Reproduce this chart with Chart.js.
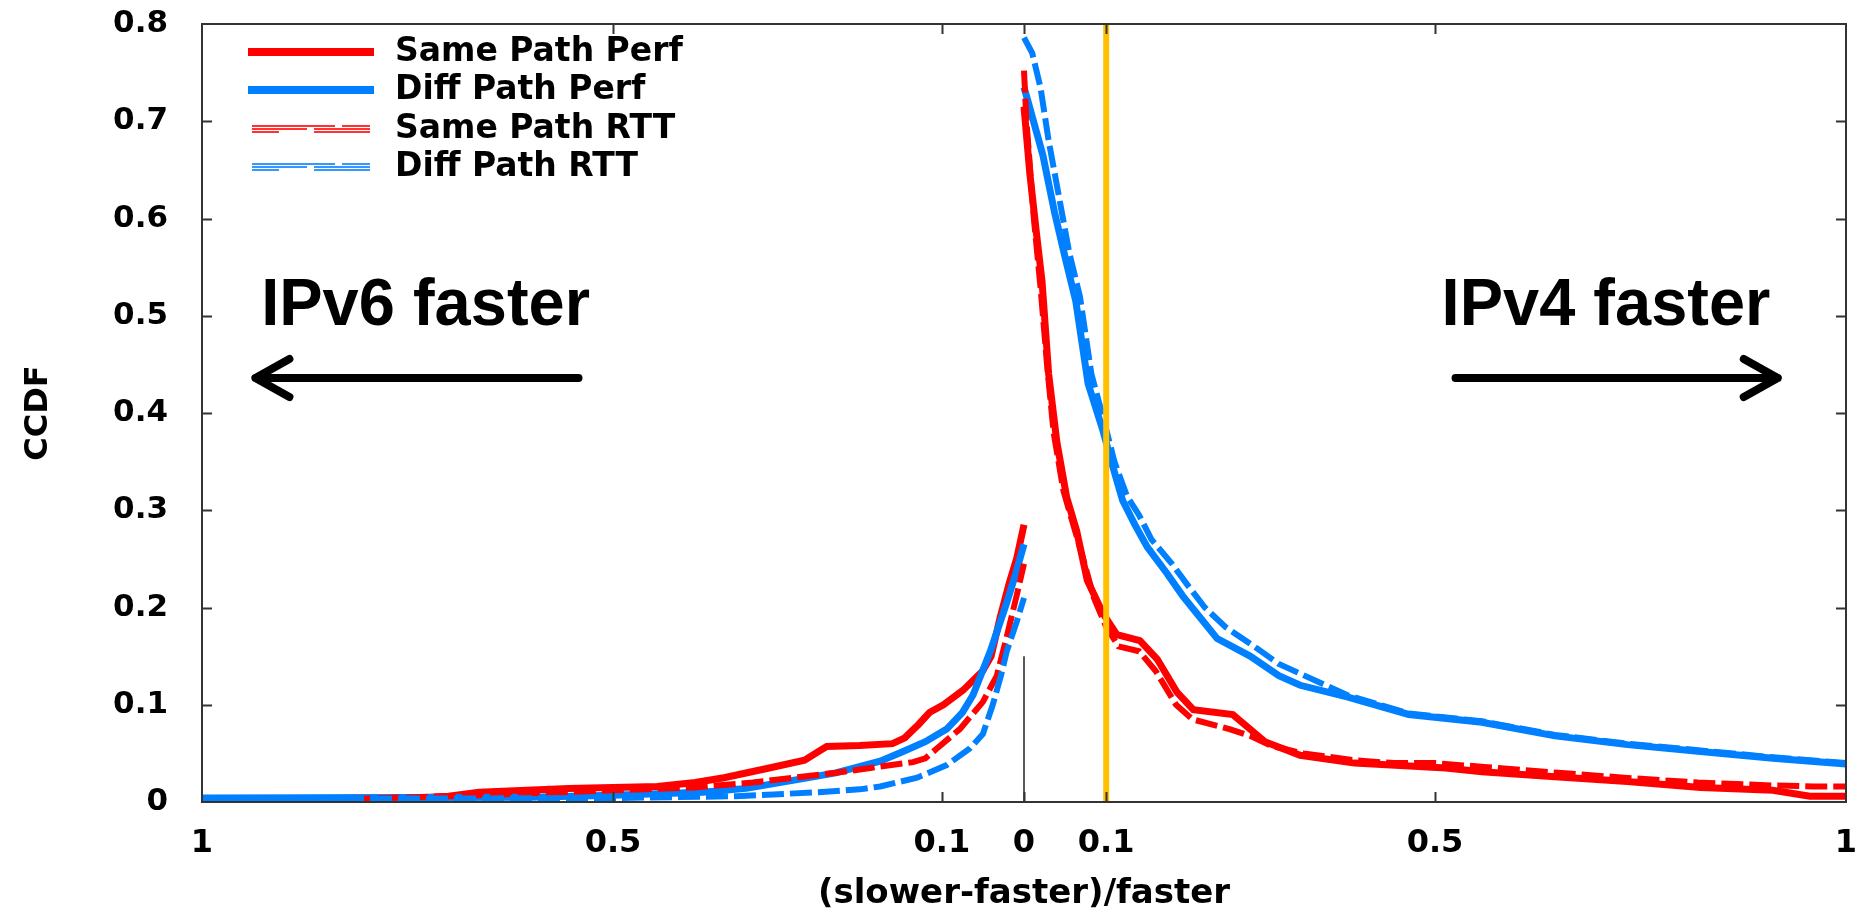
<!DOCTYPE html>
<html>
<head>
<meta charset="utf-8">
<script src="https://cdn.jsdelivr.net/npm/chart.js@4.4.0/dist/chart.umd.min.js"></script>
<style>
  html, body { margin: 0; padding: 0; background: #fff; }
</style>
</head>
<body>
<canvas id="ccdf-chart" width="1871" height="916"></canvas>
<script>
// ----------------------------
// Data
// ----------------------------
const xTicks = [-1, -0.5, -0.1, 0, 0.1, 0.5, 1];
const yTicks = [0, 0.1, 0.2, 0.3, 0.4, 0.5, 0.6, 0.7, 0.8];
const seriesLabels = ['Same Path Perf', 'Diff Path Perf', 'Same Path RTT', 'Diff Path RTT'];

// left branch: IPv6 faster, right branch: IPv4 faster
const samePerfLeft = [
  [-1, 0.003], [-0.74, 0.004], [-0.70, 0.006], [-0.663, 0.010], [-0.554, 0.014], [-0.446, 0.016],
  [-0.40, 0.020], [-0.365, 0.025], [-0.31, 0.035], [-0.267, 0.043], [-0.25, 0.052], [-0.24, 0.057],
  [-0.20, 0.058], [-0.16, 0.060], [-0.145, 0.066], [-0.128, 0.080], [-0.115, 0.092], [-0.098, 0.100],
  [-0.074, 0.115], [-0.05, 0.135], [-0.04, 0.150], [-0.029, 0.190], [-0.018, 0.225], [-0.009, 0.250], [0, 0.285]
];
const samePerfRight = [
  [0, 0.715], [0.007, 0.647], [0.015, 0.586], [0.022, 0.535], [0.030, 0.440], [0.040, 0.370],
  [0.052, 0.313], [0.064, 0.279], [0.077, 0.228], [0.096, 0.194], [0.113, 0.172], [0.141, 0.166],
  [0.162, 0.147], [0.186, 0.113], [0.206, 0.095], [0.254, 0.090], [0.275, 0.075], [0.293, 0.062],
  [0.336, 0.048], [0.402, 0.040], [0.513, 0.035], [0.557, 0.031], [0.646, 0.026], [0.734, 0.021],
  [0.823, 0.015], [0.911, 0.012], [0.956, 0.006], [1, 0.006]
];
const diffPerfLeft = [
  [-1, 0.004], [-0.6, 0.005], [-0.501, 0.007], [-0.391, 0.010], [-0.338, 0.014], [-0.283, 0.022],
  [-0.229, 0.030], [-0.175, 0.042], [-0.147, 0.052], [-0.12, 0.062], [-0.094, 0.075], [-0.075, 0.092],
  [-0.062, 0.110], [-0.041, 0.155], [-0.021, 0.205], [-0.01, 0.235], [0, 0.265]
];
const diffPerfRight = [
  [0, 0.735], [0.005, 0.720], [0.023, 0.665], [0.037, 0.607], [0.05, 0.560], [0.063, 0.515],
  [0.078, 0.430], [0.096, 0.382], [0.108, 0.345], [0.12, 0.310], [0.135, 0.285], [0.15, 0.262],
  [0.174, 0.235], [0.193, 0.212], [0.214, 0.190], [0.235, 0.168], [0.275, 0.150], [0.31, 0.130],
  [0.336, 0.120], [0.393, 0.108], [0.468, 0.090], [0.557, 0.082], [0.646, 0.068], [0.734, 0.059],
  [0.823, 0.052], [0.911, 0.045], [1, 0.039]
];
const sameRttLeft = [
  [-0.82, 0.003], [-0.70, 0.006], [-0.6, 0.009], [-0.5, 0.012], [-0.4, 0.015], [-0.33, 0.020],
  [-0.28, 0.025], [-0.229, 0.030], [-0.187, 0.035], [-0.135, 0.041], [-0.12, 0.045], [-0.106, 0.055],
  [-0.078, 0.075], [-0.05, 0.103], [-0.033, 0.130], [-0.021, 0.170], [-0.009, 0.212], [0, 0.245]
];
const sameRttRight = [
  [0, 0.752], [0.003, 0.700], [0.012, 0.600], [0.02, 0.530], [0.028, 0.450], [0.036, 0.380],
  [0.048, 0.320], [0.06, 0.285], [0.072, 0.250], [0.085, 0.210], [0.1, 0.180], [0.115, 0.160],
  [0.14, 0.155], [0.16, 0.135], [0.185, 0.100], [0.205, 0.085], [0.25, 0.075], [0.275, 0.068],
  [0.30, 0.058], [0.34, 0.050], [0.40, 0.043], [0.45, 0.040], [0.50, 0.040], [0.56, 0.036],
  [0.65, 0.030], [0.73, 0.025], [0.82, 0.020], [0.91, 0.017], [0.96, 0.016], [1, 0.016]
];
const diffRttLeft = [
  [-1, 0.003], [-0.5, 0.004], [-0.35, 0.006], [-0.25, 0.010], [-0.2, 0.013], [-0.175, 0.016],
  [-0.13, 0.025], [-0.094, 0.038], [-0.066, 0.055], [-0.05, 0.070], [-0.038, 0.100], [-0.028, 0.130],
  [-0.021, 0.155], [-0.009, 0.185], [0, 0.210]
];
const diffRttRight = [
  [0, 0.786], [0.01, 0.770], [0.02, 0.735], [0.03, 0.680], [0.042, 0.625], [0.055, 0.565],
  [0.068, 0.520], [0.082, 0.440], [0.098, 0.390], [0.11, 0.350], [0.125, 0.315], [0.14, 0.295],
  [0.155, 0.270], [0.18, 0.245], [0.2, 0.222], [0.22, 0.200], [0.245, 0.180], [0.28, 0.160],
  [0.31, 0.142], [0.336, 0.132], [0.393, 0.110], [0.468, 0.091], [0.557, 0.083], [0.646, 0.069],
  [0.734, 0.060], [0.823, 0.053], [0.911, 0.046], [1, 0.040]
];
const thresholdLine = [[0.1, 0], [0.1, 0.8]];
const zeroLine = [[0, 0], [0, 0.15]];

// ----------------------------
// Styling
// ----------------------------
const RED = 'rgb(255, 0, 0)';
const BLUE = 'rgb(0, 128, 255)';
const ORANGE = 'rgb(255, 192, 0)';
const FRAME = '#333';
const TICK_FONT = { family: 'DejaVu Sans', weight: 'bold', size: 31 };
const RTT_DASH = [22, 6];

// plot box inside the 1871x916 canvas
const AREA = { left: 202, right: 1846, top: 24, bottom: 802 };

const NOTES = {
  labels: [
    { text: 'IPv6 faster', x: -0.728, y: 0.491 },
    { text: 'IPv4 faster', x: 0.708, y: 0.491 }
  ],
  arrows: [
    { from: -0.542, to: -0.935, y: 0.436 },
    { from: 0.525, to: 0.917, y: 0.436 }
  ]
};

const toPoints = (pairs) => pairs.map(([x, y]) => ({ x, y }));
const branches = (left, right) => [...toPoints(left), { x: 0, y: null }, ...toPoints(right)];

const curve = (label, data, color, dashed, order) => ({
  label,
  data,
  borderColor: color,
  backgroundColor: color,
  borderWidth: dashed ? 6 : 7,
  borderDash: dashed ? RTT_DASH : [],
  pointRadius: 0,
  tension: 0,
  fill: false,
  spanGaps: false,
  order
});

// ----------------------------
// Frame, inward ticks, legend and notes
// ----------------------------
const framePlugin = {
  id: 'framePlugin',
  afterDatasetsDraw(chart) {
    const { ctx, chartArea: a, scales: { x, y } } = chart;
    ctx.save();

    ctx.strokeStyle = FRAME;
    ctx.lineWidth = 2;
    ctx.strokeRect(a.left, a.top, a.right - a.left, a.bottom - a.top);

    const T = 10;
    ctx.beginPath();
    xTicks.forEach(v => {
      if (Math.abs(v) === 1) return;
      const px = Math.round(x.getPixelForValue(v)) + 0.5;
      ctx.moveTo(px, a.bottom); ctx.lineTo(px, a.bottom - T);
      ctx.moveTo(px, a.top); ctx.lineTo(px, a.top + T);
    });
    yTicks.forEach(v => {
      if (v === 0 || v === 0.8) return;
      const py = Math.round(y.getPixelForValue(v)) + 0.5;
      ctx.moveTo(a.left, py); ctx.lineTo(a.left + T, py);
      ctx.moveTo(a.right, py); ctx.lineTo(a.right - T, py);
    });
    ctx.stroke();

    // legend in the top-left corner
    const lx0 = 248, lx1 = 374, rows = [52, 90, 129, 167];
    const sets = chart.data.datasets.slice(0, 4);
    sets.forEach((ds, i) => {
      const ly = rows[i];
      if (!ds.borderDash.length) {
        ctx.fillStyle = ds.borderColor;
        ctx.fillRect(lx0, ly - 4, lx1 - lx0, 8);
      } else {
        ctx.strokeStyle = ds.borderColor;
        ctx.globalAlpha = 0.8;
        ctx.lineWidth = 2;
        const s = lx0 + 4;
        const rowsDash = [
          [[0, 83], [90, 118]],
          [[0, 55], [62, 118]],
          [[0, 27], [62, 118]]
        ];
        rowsDash.forEach((segs, k) => {
          const yy = ly - 3 + k * 3;
          segs.forEach(([a0, a1]) => {
            ctx.beginPath(); ctx.moveTo(s + a0, yy); ctx.lineTo(s + a1, yy); ctx.stroke();
          });
        });
        ctx.globalAlpha = 1;
      }
      ctx.fillStyle = '#000';
      ctx.font = 'bold 33px "DejaVu Sans"';
      ctx.textBaseline = 'middle';
      ctx.textAlign = 'left';
      ctx.fillText(ds.label, 395, ly);
    });

    // direction notes
    ctx.fillStyle = '#000';
    ctx.font = 'bold 67px "Liberation Sans"';
    ctx.textAlign = 'center';
    ctx.textBaseline = 'alphabetic';
    NOTES.labels.forEach(n => {
      ctx.save();
      ctx.translate(x.getPixelForValue(n.x), y.getPixelForValue(n.y));
      ctx.scale(0.97, 1);
      ctx.fillText(n.text, 0, 0);
      ctx.restore();
    });

    ctx.strokeStyle = '#000';
    ctx.lineWidth = 8;
    ctx.lineCap = 'round';
    ctx.lineJoin = 'round';
    NOTES.arrows.forEach(ar => {
      const x0 = x.getPixelForValue(ar.from), x1 = x.getPixelForValue(ar.to);
      const py = y.getPixelForValue(ar.y);
      const dir = Math.sign(x1 - x0);
      ctx.beginPath();
      ctx.moveTo(x0, py); ctx.lineTo(x1, py);
      ctx.moveTo(x1 - dir * 34, py - 19); ctx.lineTo(x1, py); ctx.lineTo(x1 - dir * 34, py + 19);
      ctx.stroke();
    });

    ctx.restore();
  }
};

// ----------------------------
// Chart
// ----------------------------
const chart = new Chart(document.getElementById('ccdf-chart'), {
  type: 'line',
  data: {
    datasets: [
      curve(seriesLabels[0], branches(samePerfLeft, samePerfRight), RED, false, 4),
      curve(seriesLabels[1], branches(diffPerfLeft, diffPerfRight), BLUE, false, 3),
      curve(seriesLabels[2], branches(sameRttLeft, sameRttRight), RED, true, 2),
      curve(seriesLabels[3], branches(diffRttLeft, diffRttRight), BLUE, true, 1),
      { label: 'threshold', data: toPoints(thresholdLine), borderColor: ORANGE, borderWidth: 6, pointRadius: 0, order: 0 },
      { label: 'zero', data: toPoints(zeroLine), borderColor: '#222', borderWidth: 1.5, pointRadius: 0, order: 0 }
    ]
  },
  options: {
    responsive: false,
    animation: false,
    devicePixelRatio: 1,
    layout: { padding: { left: 0, right: 1871 - AREA.right, top: AREA.top, bottom: 0 } },
    plugins: { legend: { display: false }, tooltip: { enabled: false } },
    scales: {
      x: {
        type: 'linear',
        min: -1,
        max: 1,
        afterBuildTicks: s => { s.ticks = xTicks.map(v => ({ value: v })); },
        afterFit: s => {
          s.height = 916 - AREA.bottom;
          s.paddingLeft = 0; s.paddingRight = 0;
        },
        grid: { display: false, drawTicks: false },
        border: { display: false },
        ticks: {
          autoSkip: false,
          maxRotation: 0,
          padding: 22,
          color: '#000',
          font: { ...TICK_FONT, size: 32 },
          callback: v => String(Math.abs(v))
        },
        title: {
          display: true,
          text: '(slower-faster)/faster',
          color: '#000',
          font: { family: 'DejaVu Sans', weight: 'bold', size: 34, lineHeight: 1.2 },
          padding: { top: 0, bottom: 1 }
        }
      },
      y: {
        min: 0,
        max: 0.8,
        afterBuildTicks: s => { s.ticks = yTicks.map(v => ({ value: v })); },
        afterFit: s => {
          s.width = AREA.left;
          s.paddingTop = 0; s.paddingBottom = 0;
        },
        grid: { display: false, drawTicks: false },
        border: { display: false },
        ticks: {
          padding: 34,
          color: '#000',
          font: TICK_FONT,
          callback: v => (v === 0 ? '0' : v.toFixed(1))
        },
        title: {
          display: true,
          text: 'CCDF',
          color: '#000',
          font: { family: 'DejaVu Sans', weight: 'bold', size: 32, lineHeight: 1.2 },
          padding: { top: 19, bottom: 0 }
        }
      }
    }
  },
  plugins: [framePlugin]
});
</script>
</body>
</html>
